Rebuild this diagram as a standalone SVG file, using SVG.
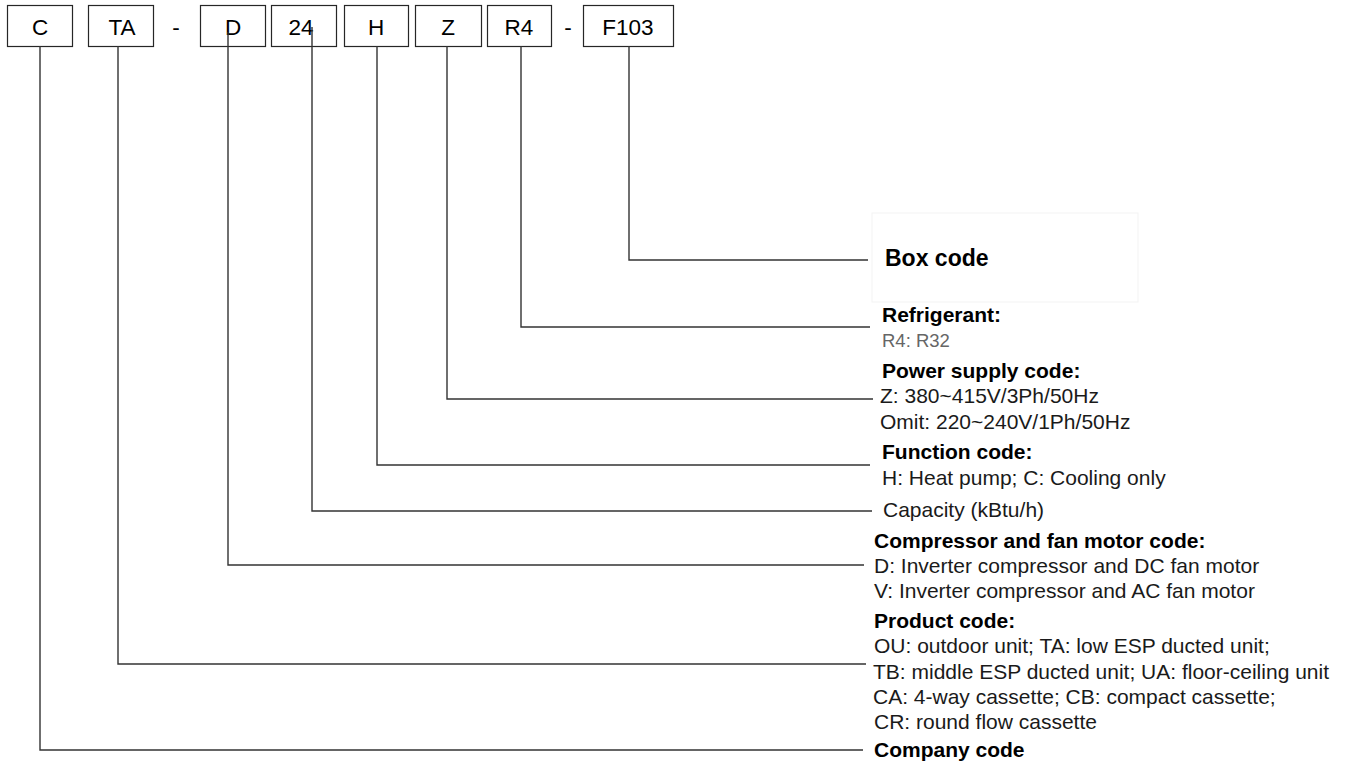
<svg xmlns="http://www.w3.org/2000/svg" width="1350" height="766" viewBox="0 0 1350 766">
<style>
.box{fill:#fff;stroke:#262626;stroke-width:1.2}
.code{font-family:"Liberation Sans",Arial,sans-serif;font-size:22.5px;fill:#000;text-anchor:middle}
.conn{fill:none;stroke:#333;stroke-width:1.4}
.h{font-family:"Liberation Sans",Arial,sans-serif;font-size:21px;font-weight:bold;fill:#000}
.t{font-family:"Liberation Sans",Arial,sans-serif;font-size:21px;fill:#1a1a1a}
.big{font-size:23px}
.grey{fill:#666;font-size:18.5px}
</style>
<rect width="1350" height="766" fill="#fff"/>
<g id="codes">
<g id="node-C"><rect class="box" x="7.5" y="5.5" width="65" height="41"/><text class="code" x="40" y="35">C</text></g>
<g id="node-TA"><rect class="box" x="88.5" y="5.5" width="65" height="41"/><text class="code" x="122" y="35">TA</text></g>
<text class="code" x="176" y="35">-</text>
<g id="node-D"><rect class="box" x="200.5" y="5.5" width="65" height="41"/><text class="code" x="233" y="35">D</text></g>
<g id="node-24"><rect class="box" x="271.5" y="5.5" width="65" height="41"/><text class="code" x="301" y="35">24</text></g>
<g id="node-H"><rect class="box" x="344.5" y="5.5" width="64" height="41"/><text class="code" x="376" y="35">H</text></g>
<g id="node-Z"><rect class="box" x="415.5" y="5.5" width="66" height="41"/><text class="code" x="448" y="35">Z</text></g>
<g id="node-R4"><rect class="box" x="487.5" y="5.5" width="64" height="41"/><text class="code" x="519" y="35">R4</text></g>
<text class="code" x="568" y="35">-</text>
<g id="node-F103"><rect class="box" x="583.5" y="5.5" width="90" height="41"/><text class="code" x="628" y="35">F103</text></g>
</g>
<g id="connectors">
<path class="conn" d="M629 46V260H868"/>
<path class="conn" d="M521 46V327H870"/>
<path class="conn" d="M447 46V399H873"/>
<path class="conn" d="M377 46V465H870"/>
<path class="conn" d="M312 27V511H872"/>
<path class="conn" d="M228 32V565H864"/>
<path class="conn" d="M118 46V664H866"/>
<path class="conn" d="M40 46V750H863"/>
</g>
<g id="desc-box"><rect x="872" y="213" width="266" height="89" fill="none" stroke="#f3f3f3"/><text class="h big" x="885" y="266">Box code</text></g>
<g id="desc-refrigerant"><text class="h" x="882" y="322">Refrigerant:</text><text class="t grey" x="882" y="347">R4: R32</text></g>
<g id="desc-power"><text class="h" x="882" y="378">Power supply code:</text><text class="t" x="880" y="403">Z: 380~415V/3Ph/50Hz</text><text class="t" x="880" y="429">Omit: 220~240V/1Ph/50Hz</text></g>
<g id="desc-function"><text class="h" x="882" y="459">Function code:</text><text class="t" x="882" y="485">H: Heat pump; C: Cooling only</text></g>
<g id="desc-capacity"><text class="t" x="883" y="517">Capacity (kBtu/h)</text></g>
<g id="desc-compressor"><text class="h" x="874" y="548">Compressor and fan motor code:</text><text class="t" x="874" y="573">D: Inverter compressor and DC fan motor</text><text class="t" x="874" y="598">V: Inverter compressor and AC fan motor</text></g>
<g id="desc-product"><text class="h" x="874" y="628">Product code:</text><text class="t" x="874" y="653">OU: outdoor unit; TA: low ESP ducted unit;</text><text class="t" x="873" y="679">TB: middle ESP ducted unit; UA: floor-ceiling unit</text><text class="t" x="873" y="704">CA: 4-way cassette; CB: compact cassette;</text><text class="t" x="874" y="729">CR: round flow cassette</text></g>
<g id="desc-company"><text class="h" x="874" y="757">Company code</text></g>
</svg>
